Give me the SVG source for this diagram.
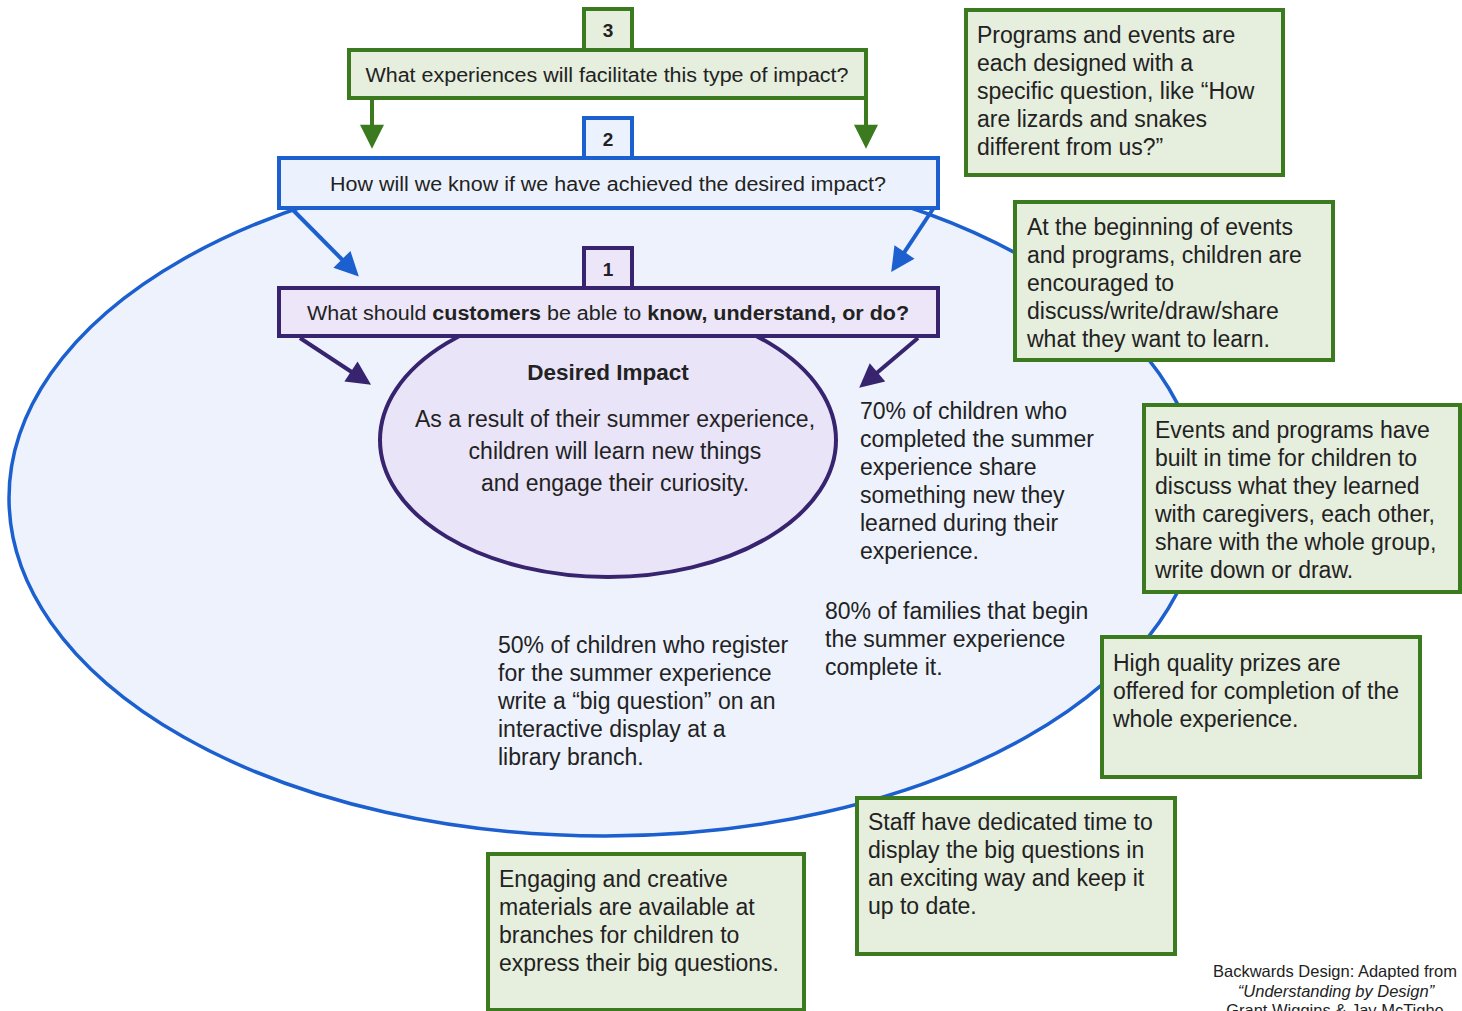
<svg xmlns="http://www.w3.org/2000/svg" width="1462" height="1011" viewBox="0 0 1462 1011">
<defs>
<style>
text{font-family:"Liberation Sans",Arial,sans-serif;fill:#222}
.body{font-size:23px}
.hdr{font-size:19.5px}
.num{font-size:19px;font-weight:bold;text-anchor:middle}
.gbox{fill:#e6eedd;stroke:#3b7a1e;stroke-width:4}
.bbox{fill:#ecf2fd;stroke:#1c5fcf;stroke-width:4}
.pbox{fill:#ece6f8;stroke:#38236f;stroke-width:4}
.credit{font-size:16.5px;text-anchor:middle}
</style>
<marker id="ag" viewBox="0 0 10 10" refX="3" refY="5" markerWidth="7" markerHeight="6" markerUnits="strokeWidth" orient="auto"><path d="M0,0 L10,5 L0,10 z" fill="#3b7a1e"/></marker>
<marker id="ab" viewBox="0 0 10 10" refX="3" refY="5" markerWidth="7" markerHeight="6" markerUnits="strokeWidth" orient="auto"><path d="M0,0 L10,5 L0,10 z" fill="#1c5fcf"/></marker>
<marker id="ap" viewBox="0 0 10 10" refX="3" refY="5" markerWidth="7" markerHeight="6" markerUnits="strokeWidth" orient="auto"><path d="M0,0 L10,5 L0,10 z" fill="#38236f"/></marker>
</defs>
<rect width="1462" height="1011" fill="#ffffff"/>

<g id="outer-ellipse">
<ellipse cx="605" cy="498" rx="596" ry="338" fill="#edf2fc" stroke="#1c5fcf" stroke-width="3.5"/>
</g>

<g id="q3">
<rect class="gbox" x="584" y="9" width="48" height="41"/>
<rect class="gbox" x="349" y="50" width="517" height="48"/>
<text class="num" x="608" y="37">3</text>
<text class="hdr" x="607" y="82" text-anchor="middle" textLength="483" lengthAdjust="spacingAndGlyphs">What experiences will facilitate this type of impact?</text>
</g>

<g id="q2">
<rect class="bbox" x="584" y="118" width="48" height="40"/>
<rect class="bbox" x="279" y="158" width="659" height="50"/>
<text class="num" x="608" y="146">2</text>
<text class="hdr" x="608" y="191" text-anchor="middle" textLength="556" lengthAdjust="spacingAndGlyphs">How will we know if we have achieved the desired impact?</text>
</g>

<g id="impact">
<ellipse cx="608" cy="440" rx="228" ry="137" fill="#e9e4f7" stroke="#38236f" stroke-width="4"/>
<text x="608" y="380" font-size="22.5" font-weight="bold" text-anchor="middle">Desired Impact</text>
<text class="body" text-anchor="middle"><tspan x="615" y="427">As a result of their summer experience,</tspan><tspan x="615" y="459">children will learn new things</tspan><tspan x="615" y="491">and engage their curiosity.</tspan></text>
</g>

<g id="q1">
<rect class="pbox" x="584" y="248" width="48" height="40"/>
<rect class="pbox" x="279" y="288" width="659" height="48"/>
<text class="num" x="608" y="276">1</text>
<text class="hdr" x="608" y="320" text-anchor="middle" textLength="602" lengthAdjust="spacingAndGlyphs">What should <tspan font-weight="bold">customers</tspan> be able to <tspan font-weight="bold">know, understand, or do?</tspan></text>
</g>

<g id="connectors">
<line x1="372" y1="98" x2="372" y2="132" stroke="#3b7a1e" stroke-width="4" marker-end="url(#ag)"/>
<line x1="866" y1="98" x2="866" y2="132" stroke="#3b7a1e" stroke-width="4" marker-end="url(#ag)"/>
<line x1="292" y1="209" x2="347" y2="264.5" stroke="#1c5fcf" stroke-width="4" marker-end="url(#ab)"/>
<line x1="933" y1="209" x2="900.5" y2="258" stroke="#1c5fcf" stroke-width="4" marker-end="url(#ab)"/>
<line x1="300" y1="338" x2="357" y2="375.5" stroke="#38236f" stroke-width="4" marker-end="url(#ap)"/>
<line x1="918" y1="338" x2="872" y2="377" stroke="#38236f" stroke-width="4" marker-end="url(#ap)"/>
</g>

<g id="m70">
<text class="body"><tspan x="860" y="419">70% of children who</tspan><tspan x="860" y="447">completed the summer</tspan><tspan x="860" y="475">experience share</tspan><tspan x="860" y="503">something new they</tspan><tspan x="860" y="531">learned during their</tspan><tspan x="860" y="559">experience.</tspan></text>
</g>
<g id="m80">
<text class="body"><tspan x="825" y="619">80% of families that begin</tspan><tspan x="825" y="647">the summer experience</tspan><tspan x="825" y="675">complete it.</tspan></text>
</g>
<g id="m50">
<text class="body"><tspan x="498" y="653">50% of children who register</tspan><tspan x="498" y="681">for the summer experience</tspan><tspan x="498" y="709">write a “big question” on an</tspan><tspan x="498" y="737">interactive display at a</tspan><tspan x="498" y="765">library branch.</tspan></text>
</g>

<g id="e-programs">
<rect class="gbox" x="966" y="10" width="317" height="165"/>
<text class="body"><tspan x="977" y="43">Programs and events are</tspan><tspan x="977" y="71">each designed with a</tspan><tspan x="977" y="99">specific question, like “How</tspan><tspan x="977" y="127">are lizards and snakes</tspan><tspan x="977" y="155">different from us?”</tspan></text>
</g>
<g id="e-beginning">
<rect class="gbox" x="1015" y="202" width="318" height="158"/>
<text class="body"><tspan x="1027" y="235">At the beginning of events</tspan><tspan x="1027" y="263">and programs, children are</tspan><tspan x="1027" y="291">encouraged to</tspan><tspan x="1027" y="319">discuss/write/draw/share</tspan><tspan x="1027" y="347">what they want to learn.</tspan></text>
</g>
<g id="e-built">
<rect class="gbox" x="1144" y="405" width="316" height="187"/>
<text class="body"><tspan x="1155" y="438">Events and programs have</tspan><tspan x="1155" y="466">built in time for children to</tspan><tspan x="1155" y="494">discuss what they learned</tspan><tspan x="1155" y="522">with caregivers, each other,</tspan><tspan x="1155" y="550">share with the whole group,</tspan><tspan x="1155" y="578">write down or draw.</tspan></text>
</g>
<g id="e-prizes">
<rect class="gbox" x="1102" y="637" width="318" height="140"/>
<text class="body"><tspan x="1113" y="671">High quality prizes are</tspan><tspan x="1113" y="699">offered for completion of the</tspan><tspan x="1113" y="727">whole experience.</tspan></text>
</g>
<g id="e-staff">
<rect class="gbox" x="857" y="798" width="318" height="156"/>
<text class="body"><tspan x="868" y="830">Staff have dedicated time to</tspan><tspan x="868" y="858">display the big questions in</tspan><tspan x="868" y="886">an exciting way and keep it</tspan><tspan x="868" y="914">up to date.</tspan></text>
</g>
<g id="e-materials">
<rect class="gbox" x="488" y="854" width="316" height="156"/>
<text class="body"><tspan x="499" y="887">Engaging and creative</tspan><tspan x="499" y="915">materials are available at</tspan><tspan x="499" y="943">branches for children to</tspan><tspan x="499" y="971">express their big questions.</tspan></text>
</g>

<g id="credit">
<text class="credit"><tspan x="1335" y="977">Backwards Design: Adapted from</tspan><tspan x="1336" y="997" font-style="italic">“Understanding by Design”</tspan><tspan x="1335" y="1016">Grant Wiggins &amp; Jay McTighe</tspan></text>
</g>
</svg>
